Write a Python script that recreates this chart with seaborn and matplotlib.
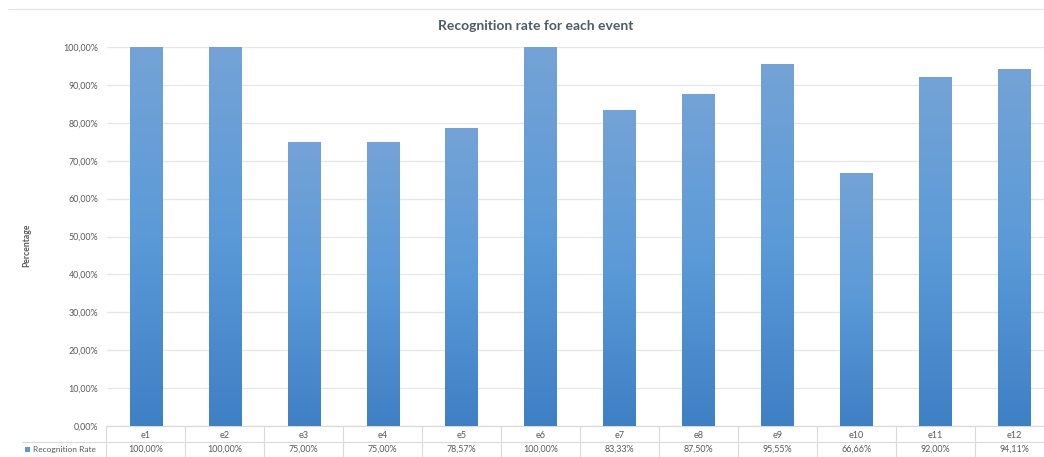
import numpy as np
import pandas as pd
import matplotlib
matplotlib.use("Agg")
import matplotlib.pyplot as plt
from matplotlib.lines import Line2D
from matplotlib.patches import Rectangle
from matplotlib.colors import LinearSegmentedColormap
from matplotlib.ticker import FuncFormatter, MultipleLocator
from matplotlib.transforms import blended_transform_factory
import seaborn as sns

# Data
events = ["e1", "e2", "e3", "e4", "e5", "e6", "e7", "e8", "e9", "e10", "e11", "e12"]
rates = [100.00, 100.00, 75.00, 75.00, 78.57, 100.00, 83.33, 87.50, 95.55, 66.66, 92.00, 94.11]
value_labels = ["100,00%", "100,00%", "75,00%", "75,00%", "78,57%", "100,00%",
                "83,33%", "87,50%", "95,55%", "66,66%", "92,00%", "94,11%"]
series_name = "Recognition Rate"
title = "Recognition rate for each event"
y_label = "Percentage"

sns.set_theme(style="white")
plt.rcParams["font.family"] = ["Lato", "DejaVu Sans"]

TEXT = "#595959"
GRID = "#e6e6e6"
TABLE = "#dadada"
BLUE = "#5b9bd5"

W, H = 1044, 457
fig = plt.figure(figsize=(W / 100, H / 100), dpi=100)
fig.patch.set_facecolor("white")

def fx(px):
    return px / W

def fy(py):
    return 1 - py / H

left_px, right_px, top_px, bottom_px = 106.5, 1053.5, 47, 426
ax = fig.add_axes([fx(left_px), fy(bottom_px), fx(right_px - left_px), (bottom_px - top_px) / H])

df = pd.DataFrame({"event": events, "rate": rates})
sns.barplot(data=df, x="event", y="rate", color=BLUE, width=0.41, ax=ax, zorder=3)

# Vertical gradient fill for each bar, clipped to the bar shape
grad_cmap = LinearSegmentedColormap.from_list(
    "bar_grad", [(0.0, "#3f7fc4"), (0.5, "#5b9ad8"), (1.0, "#74a3d6")])
grad = np.linspace(0, 1, 256).reshape(-1, 1)
for patch in ax.patches:
    x0, y0 = patch.get_x(), patch.get_y()
    w, h = patch.get_width(), patch.get_height()
    im = ax.imshow(grad, cmap=grad_cmap, aspect="auto", origin="lower",
                   extent=[x0, x0 + w, y0, y0 + h], zorder=3, interpolation="bicubic")
    im.set_clip_path(patch)
    patch.set_facecolor("none")
    patch.set_edgecolor("none")

ax.set_xlim(-0.5, len(events) - 0.5)
ax.set_ylim(0, 100)
ax.yaxis.set_major_locator(MultipleLocator(10))
ax.yaxis.set_major_formatter(FuncFormatter(lambda v, _: f"{v:.2f}".replace(".", ",") + "%"))
ax.grid(axis="y", color=GRID, linewidth=0.9, zorder=0)
ax.grid(axis="x", visible=False)
for s in ax.spines.values():
    s.set_visible(False)
ax.tick_params(axis="y", length=0, pad=6, labelsize=6.4, labelcolor=TEXT)
ax.tick_params(axis="x", length=0, labelbottom=False)
ax.set_xlabel("")
ax.set_ylabel("")

# Axis title
fig.text(fx(27), fy(245), y_label, rotation=90, ha="center", va="center",
         fontsize=6.2, fontweight="bold", color=TEXT)

# Chart title
fig.text(fx(536), fy(26), title, ha="center", va="center",
         fontsize=10, fontweight="bold", color="#505a66")

# Chart frame line at the top
fig.add_artist(Line2D([fx(8), 1], [fy(9), fy(9)], color="#e6e6e6", linewidth=0.9))

# Data table below the plot
bt = blended_transform_factory(ax.transData, fig.transFigure)
n = len(events)
for i in range(n + 1):
    ax.plot([i - 0.5, i - 0.5], [fy(bottom_px), fy(457)], transform=bt,
            color=TABLE, linewidth=0.8, clip_on=False)
ax.plot([-0.5, n - 0.5], [fy(bottom_px), fy(bottom_px)], transform=bt,
        color=TABLE, linewidth=0.9, clip_on=False)
fig.add_artist(Line2D([fx(22), 1], [fy(442), fy(442)], color=TABLE, linewidth=0.8))
for i, (ev, lab) in enumerate(zip(events, value_labels)):
    ax.text(i, fy(435), ev, transform=bt, ha="center", va="center",
            fontsize=6.6, color=TEXT)
    ax.text(i, fy(449.5), lab, transform=bt, ha="center", va="center",
            fontsize=6.4, color=TEXT)

# Series key in the table's first column
fig.add_artist(Rectangle((fx(25), fy(451.5)), fx(4.5), 4.5 / H, facecolor=BLUE,
                         edgecolor="none", transform=fig.transFigure))
fig.text(fx(33), fy(449.5), series_name, ha="left", va="center",
         fontsize=6.0, color=TEXT)

fig.savefig("out.png", dpi=100, facecolor="white")
